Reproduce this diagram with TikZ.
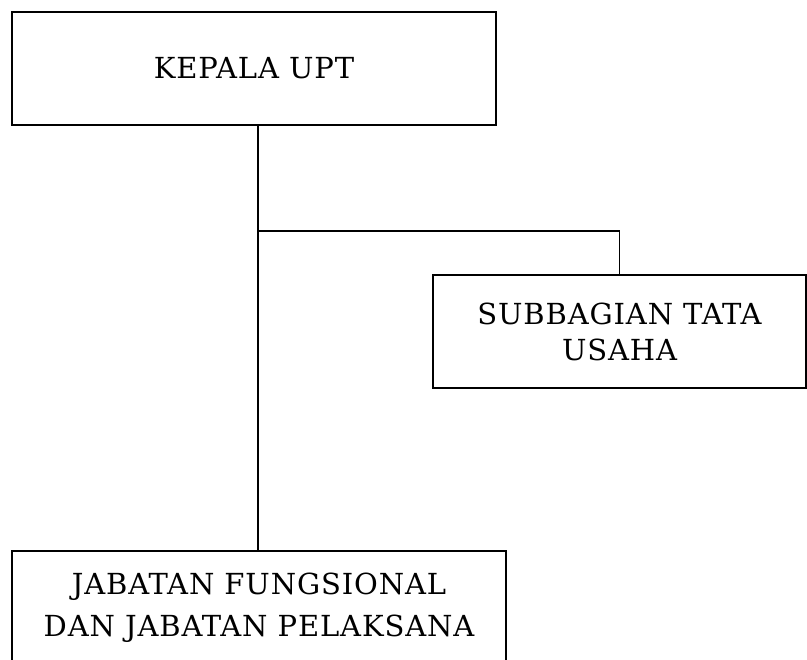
\documentclass[tikz,border=0pt]{standalone}
\usepackage{fontspec}
\setmainfont{DejaVu Serif}[LetterSpace=3]
\tikzset{
  unit/.style={draw,line width=1.2pt,align=center,inner sep=0pt,
    font=\fontsize{29}{36}\selectfont},
}
\begin{document}
\begin{tikzpicture}[x=1pt,y=-1pt]
  \useasboundingbox (0,0) rectangle (807,660);
  \node[unit,minimum width=484pt,minimum height=113pt] (kepala) at (254,68.5) {KEPALA UPT};
  \node[unit,minimum width=373pt,minimum height=113pt] (subbag) at (619.5,331.5)
    {SUBBAGIAN TATA\\USAHA};
  \node[unit,minimum width=494pt,minimum height=113pt,font=\fontsize{29}{42}\selectfont]
    (jabatan) at (259,607.5) {JABATAN FUNGSIONAL\\DAN JABATAN PELAKSANA};
  \coordinate (cabang) at (258,231);
  \draw[line width=1.2pt] (kepala.south -| cabang) -- (jabatan.north -| cabang);
  \draw[line width=1.2pt] (cabang) -| (subbag.north);
\end{tikzpicture}
\end{document}
